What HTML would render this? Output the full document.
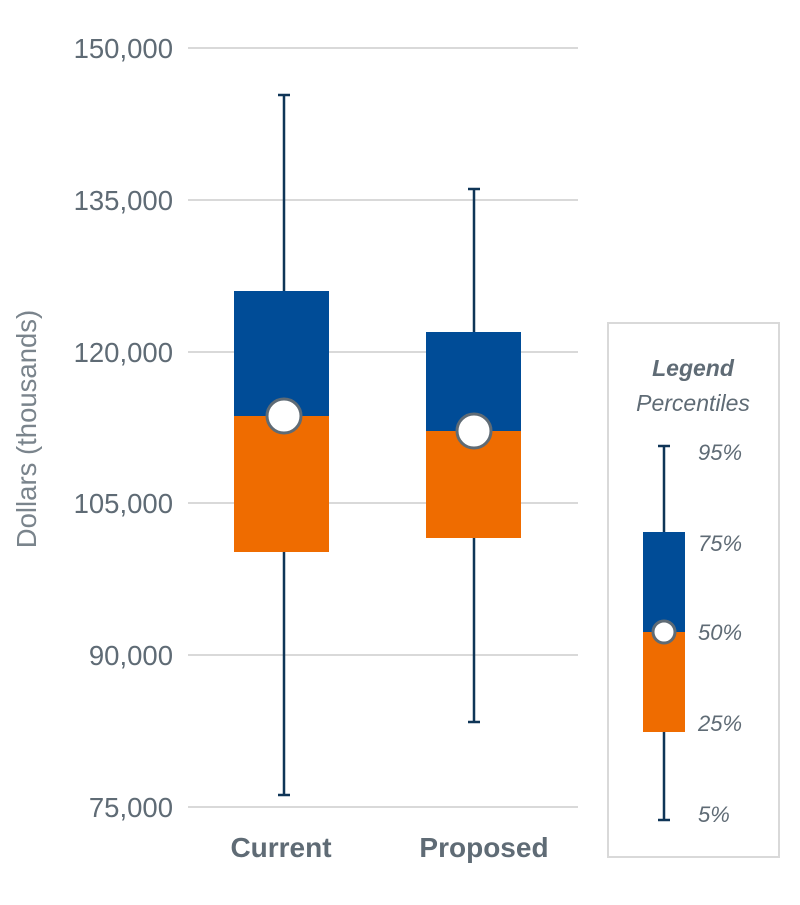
<!DOCTYPE html>
<html><head><style>
body{margin:0;background:#fff;}
text{font-family:"Liberation Sans",sans-serif;}
</style></head><body>
<svg width="800" height="900" xmlns="http://www.w3.org/2000/svg">
<g stroke="#d9d9d9" stroke-width="2">
<line x1="188" y1="48" x2="578" y2="48"/>
<line x1="188" y1="200" x2="578" y2="200"/>
<line x1="188" y1="352" x2="578" y2="352"/>
<line x1="188" y1="503" x2="578" y2="503"/>
<line x1="188" y1="655" x2="578" y2="655"/>
<line x1="188" y1="807" x2="578" y2="807"/>
</g>
<g fill="#5f6b75" font-size="27.5" text-anchor="end">
<text x="173" y="58">150,000</text>
<text x="173" y="210">135,000</text>
<text x="173" y="362">120,000</text>
<text x="173" y="513">105,000</text>
<text x="173" y="665">90,000</text>
<text x="173" y="817">75,000</text>
</g>
<text transform="translate(36,429) rotate(-90)" fill="#7a848c" font-size="27.5" text-anchor="middle">Dollars (thousands)</text>
<g stroke="#0f3557" stroke-width="2.5">
<line x1="284" y1="95" x2="284" y2="795"/><line x1="278" y1="95" x2="290" y2="95"/><line x1="278" y1="795" x2="290" y2="795"/>
<line x1="474" y1="189" x2="474" y2="722"/><line x1="468" y1="189" x2="480" y2="189"/><line x1="468" y1="722" x2="480" y2="722"/>
<line x1="664" y1="446" x2="664" y2="820"/><line x1="658" y1="446" x2="670" y2="446"/><line x1="658" y1="820" x2="670" y2="820"/>
</g>
<rect x="234" y="291" width="95" height="125" fill="#004c97"/>
<rect x="234" y="416" width="95" height="136" fill="#ef6c00"/>
<rect x="426" y="332" width="95" height="99" fill="#004c97"/>
<rect x="426" y="431" width="95" height="107" fill="#ef6c00"/>
<circle cx="284" cy="416" r="17" fill="#fff" stroke="#5f6b75" stroke-width="3"/>
<circle cx="474" cy="431" r="17" fill="#fff" stroke="#5f6b75" stroke-width="3"/>
<g fill="#5f6b75" font-size="28" font-weight="bold" text-anchor="middle">
<text x="281" y="857">Current</text>
<text x="484" y="857">Proposed</text>
</g>
<rect x="608" y="323" width="171" height="534" fill="none" stroke="#d9d9d9" stroke-width="2"/>
<text x="693" y="376" fill="#5f6b75" font-size="23" font-weight="bold" font-style="italic" text-anchor="middle">Legend</text>
<text x="693" y="411" fill="#5f6b75" font-size="23" font-style="italic" text-anchor="middle">Percentiles</text>
<rect x="643" y="532" width="42" height="100" fill="#004c97"/>
<rect x="643" y="632" width="42" height="100" fill="#ef6c00"/>
<circle cx="664" cy="632" r="11" fill="#fff" stroke="#5f6b75" stroke-width="3"/>
<g fill="#5f6b75" font-size="22" font-style="italic">
<text x="698" y="460">95%</text>
<text x="698" y="551">75%</text>
<text x="698" y="640">50%</text>
<text x="698" y="731">25%</text>
<text x="698" y="822">5%</text>
</g>
</svg>
</body></html>
